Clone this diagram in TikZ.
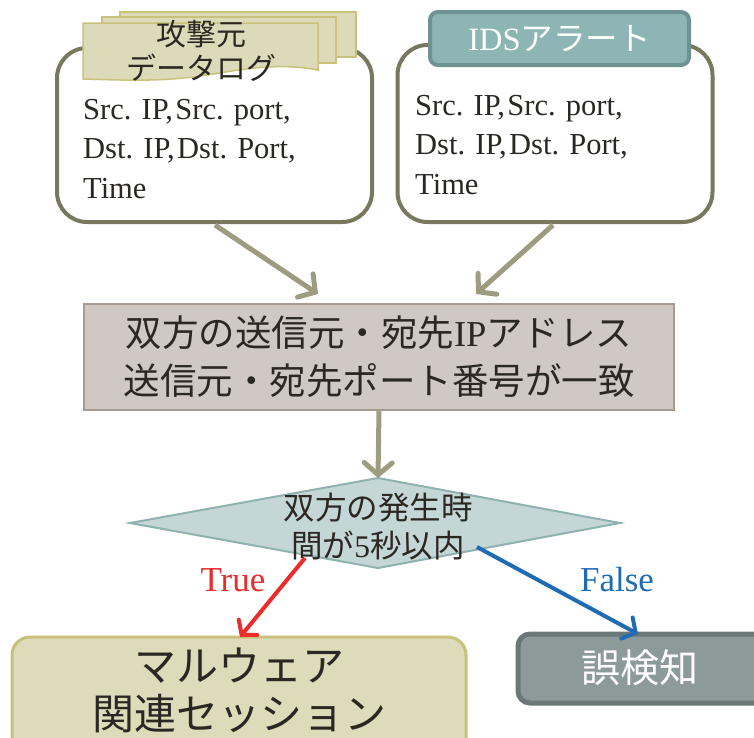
\documentclass[tikz,border=0pt]{standalone}
\usepackage{fontspec}
\setmainfont{Liberation Serif}
\newfontfamily\jp{Noto Sans CJK JP}
\usetikzlibrary{arrows.meta}
\definecolor{boxborder}{HTML}{78785F}
\definecolor{docfill}{HTML}{DCDAB8}
\definecolor{docborder}{HTML}{C9C27A}
\definecolor{idsfill}{HTML}{8DB5B3}
\definecolor{idsborder}{HTML}{6F9393}
\definecolor{arrowc}{HTML}{9E9C80}
\definecolor{midfill}{HTML}{D0C9C3}
\definecolor{midborder}{HTML}{A89A8E}
\definecolor{diafill}{HTML}{C4D7D6}
\definecolor{diaborder}{HTML}{8FB1B0}
\definecolor{truec}{HTML}{EC2B2B}
\definecolor{falsec}{HTML}{1F6CB4}
\definecolor{resfill}{HTML}{DDDBB9}
\definecolor{resborder}{HTML}{C8C17C}
\definecolor{errfill}{HTML}{8C9A9A}
\definecolor{errborder}{HTML}{6B7777}
\definecolor{txt}{HTML}{2B2723}
\newcommand{\cs}{,\hspace{0.08em}}
\tikzset{
  infobox/.style={draw=boxborder, line width=4, rounded corners=30, fill=white},
  fieldtext/.style={anchor=west, align=left, inner sep=0, text=txt, font={\fontsize{30.5}{39.5}\selectfont}},
  flow/.style={draw=arrowc, line width=5, -{Straight Barb[length=12pt,width=28pt,line cap=round]}},
  doc/.style={draw=docborder, line width=1.5, fill=docfill},
}
\begin{document}
\begin{tikzpicture}[x=1pt,y=-1pt]
\useasboundingbox (0,0) rectangle (754,737);
\clip (0,0) rectangle (754,737);
% left info box
\node[infobox, minimum width=315, minimum height=174, inner sep=0] (lbox) at (214.5,135) {};
\draw[doc] (120,12) rectangle (356,57);
\draw[doc] (102,17) rectangle (336,63);
\draw[doc] (83,23) -- (318,23) -- (318,70) .. controls (275,62) and (240,70) .. (200,76) .. controls (160,82) and (120,80) .. (83,79) -- cycle;
\node[align=center, inner sep=0, text=txt, font={\jp\fontsize{30}{34}\selectfont}] (lhead) at (201,51) {攻撃元\\データログ};
\node[fieldtext] (ltext) at (83,149) {Src. IP\cs Src. port,\\Dst. IP\cs Dst. Port,\\Time};
% right info box
\node[infobox, minimum width=315, minimum height=177, inner sep=0] (rbox) at (555,133.5) {};
\node[draw=idsborder, line width=4, fill=idsfill, rounded corners=8, minimum width=259, minimum height=53, inner sep=0, text=white, font={\fontsize{32.5}{36}\selectfont}] (rhead) at (559.5,38.5) {IDS{\jp アラート}};
\node[fieldtext] (rtext) at (415,145) {Src. IP\cs Src. port,\\Dst. IP\cs Dst. Port,\\Time};
% middle box
\node[draw=midborder, line width=2, fill=midfill, minimum width=590, minimum height=106, inner sep=0, align=center, text=txt, font={\fontsize{36.5}{48}\selectfont}] (mbox) at (379,357) {{\jp 双方の送信元・宛先}IP{\jp アドレス}\\{\jp 送信元・宛先ポート番号が一致}};
\coordinate (la) at (215,225);
\coordinate (ra) at (553,225);
\coordinate (lin) at (318,294);
\coordinate (rin) at (476,294);
\draw[flow] (la) -- (lin);
\draw[flow] (ra) -- (rin);
% decision
\coordinate (dtop) at (378,478);
\draw[draw=diaborder, line width=2, fill=diafill] (130,523) -- (dtop) -- (620,523) -- (378,568) -- cycle;
\node[align=center, inner sep=0, text=txt, font={\jp\fontsize{31.5}{38}\selectfont}] (dec) at (378,527) {双方の発生時\\間が{\rmfamily 5}秒以内};
\draw[flow] (mbox.south) -- (dtop);
% results
\node[draw=resborder, line width=3, fill=resfill, rounded corners=18, minimum width=454, minimum height=130, inner sep=0] (mal) at (239,702) {};
\node[align=center, inner sep=0, text=txt, font={\jp\fontsize{42}{48}\selectfont}] (maltext) at (239,690) {マルウェア\\関連セッション};
\node[draw=errborder, line width=5, fill=errfill, rounded corners=12, minimum width=260, minimum height=69, inner sep=0] (err) at (648,668.5) {};
\node[inner sep=0, text=white, font={\jp\fontsize{39}{44}\selectfont}] (errtext) at (640,668) {誤検知};
\coordinate (ts) at (305,558);
\coordinate (te) at (240,637);
\coordinate (fs) at (477,547);
\coordinate (fe) at (638,634);
\draw[draw=truec, line width=4, -{Straight Barb[length=10pt,width=24pt,line cap=round]}] (ts) -- (te);
\draw[draw=falsec, line width=4, -{Straight Barb[length=10pt,width=24pt,line cap=round]}] (fs) -- (fe);
\node[text=truec, inner sep=0, font={\fontsize{35}{40}\selectfont}] (tl) at (233,580) {True};
\node[text=falsec, inner sep=0, font={\fontsize{35}{40}\selectfont}] (fl) at (617,580) {False};
\end{tikzpicture}
\end{document}
